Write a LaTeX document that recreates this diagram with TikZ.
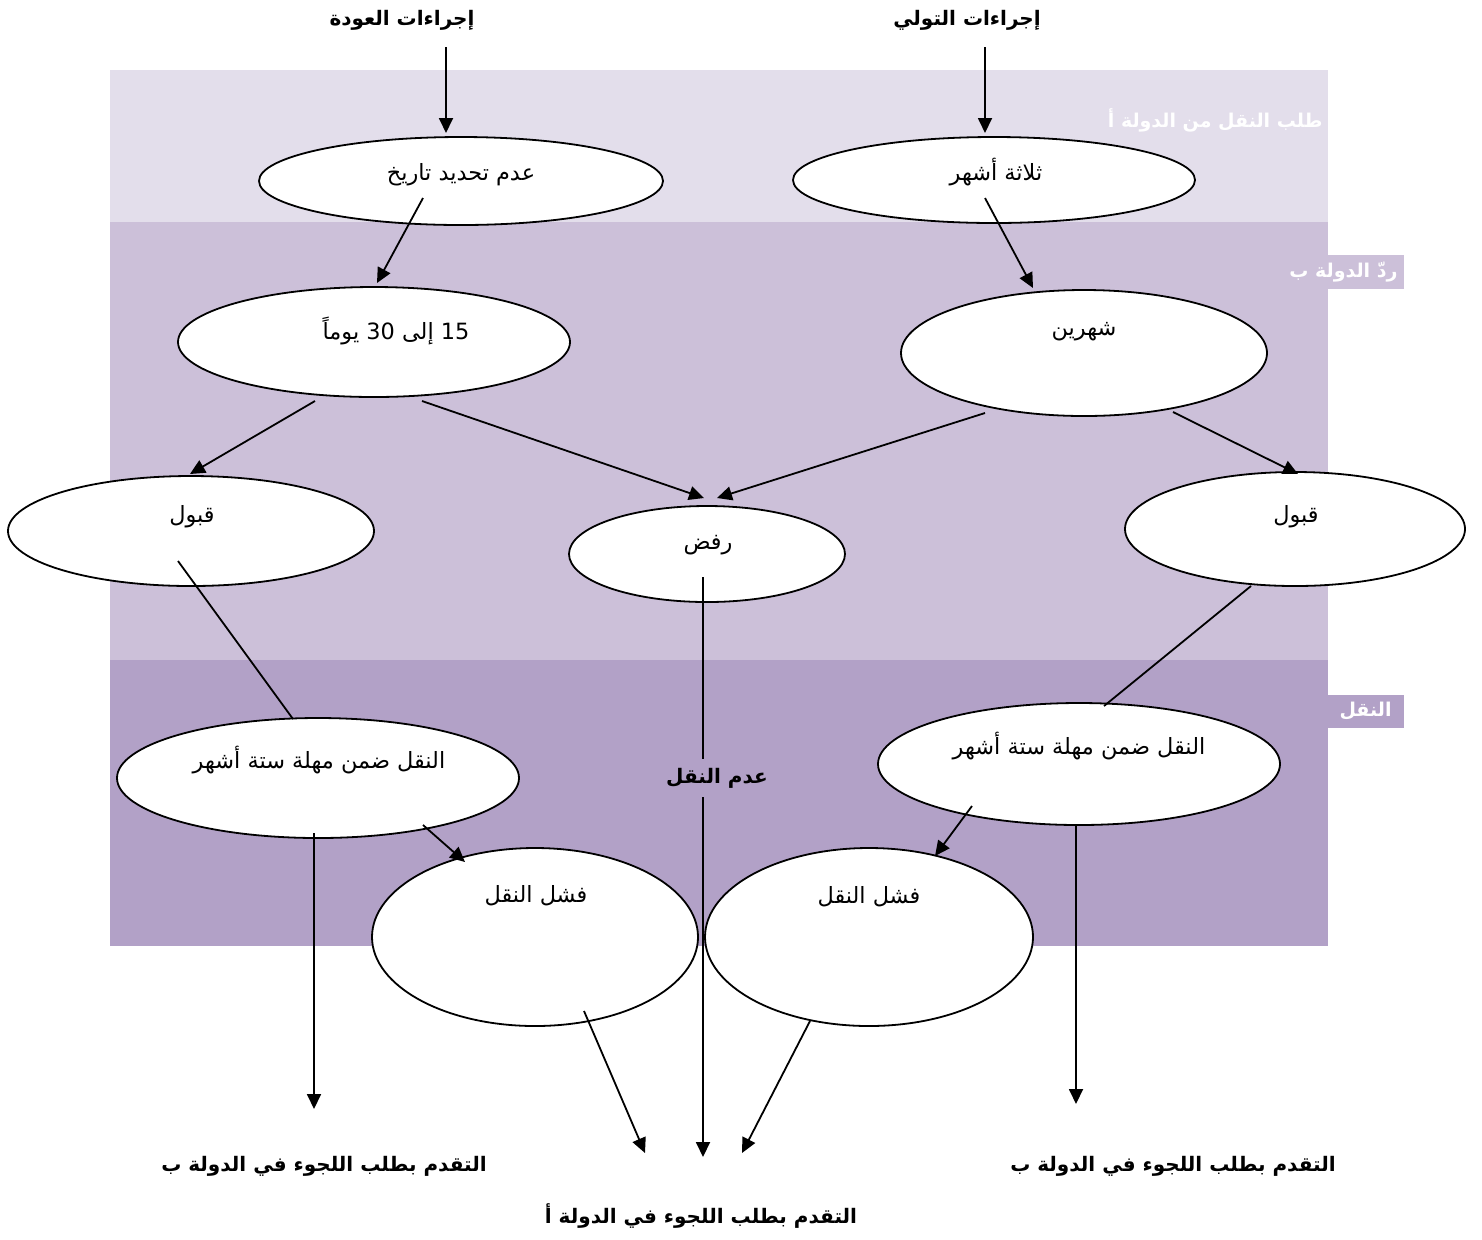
\documentclass[tikz,border=0pt]{standalone}
\usepackage{fontspec}
\usetikzlibrary{shapes.geometric,arrows.meta}
\newfontfamily\arabicfont[Script=Arabic]{DejaVu Sans}
\TeXXeTstate=1
\newcommand\artxt[1]{{\arabicfont\beginR #1\endR}}
\definecolor{bandA}{HTML}{E3DEEB}
\definecolor{bandB}{HTML}{CCC0D9}
\definecolor{bandC}{HTML}{B2A1C7}
\begin{document}
\begin{tikzpicture}[x=0.5pt,y=-0.5pt,
  ell/.style 2 args={ellipse,draw=black,line width=0.9pt,fill=white,inner sep=0pt,minimum width=#1*1pt,minimum height=#2*1pt},
  etxt/.style={inner sep=0pt,font=\fontsize{11.2}{13}\selectfont},
  btxt/.style={inner sep=0pt,font=\fontsize{10}{12}\selectfont\bfseries},
  wtxt/.style={inner sep=1pt,text=white,font=\fontsize{9.5}{11}\selectfont\bfseries},
  con/.style={line width=0.9pt,draw=black},
  arr/.style={con,-{Triangle[length=7.5pt,width=7pt]}}]
\useasboundingbox (0,0) rectangle (1482,1239);
% bands
\fill[bandA] (110,70) rectangle (1328,222);
\fill[bandB] (110,222) rectangle (1328,660);
\fill[bandC] (110,660) rectangle (1328,946);
\node[wtxt,anchor=east] (hA) at (1325,120) {\artxt{طلب النقل من الدولة أ}};
\node[wtxt,fill=bandB,minimum width=60.5pt,minimum height=17pt] (hB) at (1343.5,272) {\artxt{ردّ الدولة ب}};
\node[wtxt,fill=bandC,minimum width=38.5pt,minimum height=16.5pt] (hC) at (1365.5,711.5) {\artxt{النقل}};
% ellipses
\node[ell={202}{44}] (e1) at (461,181) {};
\node[ell={201}{43}] (e2) at (994,180) {};
\node[ell={196}{55}] (e3) at (374,342) {};
\node[ell={183}{63}] (e4) at (1084,353) {};
\node[ell={183}{55}] (e5) at (191,531) {};
\node[ell={138}{48}] (e6) at (707,554) {};
\node[ell={170}{57}] (e7) at (1295,529) {};
\node[ell={201}{60}] (e8) at (318,778) {};
\node[ell={201}{61}] (e9) at (1079,764) {};
\node[ell={163}{89}] (e10) at (535,937) {};
\node[ell={164}{89}] (e11) at (869,937) {};
% ellipse texts
\node[etxt] (t1) at (461,175) {\artxt{عدم تحديد تاريخ}};
\node[etxt] (t2) at (996,172) {\artxt{ثلاثة أشهر}};
\node[etxt] (t3) at (396,331) {\artxt{15 إلى 30 يوماً}};
\node[etxt] (t4) at (1084,332) {\artxt{شهرين}};
\node[etxt] (t5) at (192,517) {\artxt{قبول}};
\node[etxt] (t6) at (708,545) {\artxt{رفض}};
\node[etxt] (t7) at (1296,517) {\artxt{قبول}};
\node[etxt] (t8) at (319,760) {\artxt{النقل ضمن مهلة ستة أشهر}};
\node[etxt] (t9) at (1079,746) {\artxt{النقل ضمن مهلة ستة أشهر}};
\node[etxt] (t10) at (536,896) {\artxt{فشل النقل}};
\node[etxt] (t11) at (869,897) {\artxt{فشل النقل}};
% plain labels
\node[btxt] (L1) at (402,20) {\artxt{إجراءات العودة}};
\node[btxt] (L2) at (967,20) {\artxt{إجراءات التولي}};
\node[btxt] (N) at (717,778) {\artxt{عدم النقل}};
\node[btxt] (B1) at (324,1166) {\artxt{التقدم بطلب اللجوء في الدولة ب}};
\node[btxt] (B2) at (1173,1166) {\artxt{التقدم بطلب اللجوء في الدولة ب}};
\node[btxt] (A) at (701,1216) {\artxt{التقدم بطلب اللجوء في الدولة أ}};
% connectors
\draw[arr] ([shift={(44,27)}]L1.center) -- ([shift={(-15,-48)}]e1.center);
\draw[arr] ([shift={(18,27)}]L2.center) -- ([shift={(-9,-47)}]e2.center);
\draw[arr] ([shift={(-38,17)}]e1.center) -- ([shift={(3,-59)}]e3.center);
\draw[arr] ([shift={(-9,18)}]e2.center) -- ([shift={(-51,-65)}]e4.center);
\draw[arr] ([shift={(-59,59)}]e3.center) -- ([shift={(-1,-57)}]e5.center);
\draw[arr] ([shift={(48,59)}]e3.center) -- ([shift={(-3,-56)}]e6.center);
\draw[arr] ([shift={(-99,60)}]e4.center) -- ([shift={(10,-56)}]e6.center);
\draw[arr] ([shift={(89,59)}]e4.center) -- ([shift={(3,-55)}]e7.center);
\draw[con] ([shift={(-13,30)}]e5.center) -- ([shift={(-25,-59)}]e8.center);
\draw[con] ([shift={(-44,57)}]e7.center) -- ([shift={(25,-58)}]e9.center);
\draw[con] ([shift={(-4,23)}]e6.center) -- ([shift={(-14,-19)}]N.center);
\draw[arr] ([shift={(-14,19)}]N.center) -- ([shift={(2,-59)}]A.center);
\draw[arr] ([shift={(105,47)}]e8.center) -- ([shift={(-70,-75)}]e10.center);
\draw[arr] ([shift={(-107,42)}]e9.center) -- ([shift={(66,-81)}]e11.center);
\draw[arr] ([shift={(-4,55)}]e8.center) -- ([shift={(-10,-57)}]B1.center);
\draw[arr] ([shift={(-3,62)}]e9.center) -- ([shift={(-97,-62)}]B2.center);
\draw[arr] ([shift={(49,74)}]e10.center) -- ([shift={(-56,-63)}]A.center);
\draw[arr] ([shift={(-59,84)}]e11.center) -- ([shift={(41,-63)}]A.center);
\end{tikzpicture}
\end{document}
